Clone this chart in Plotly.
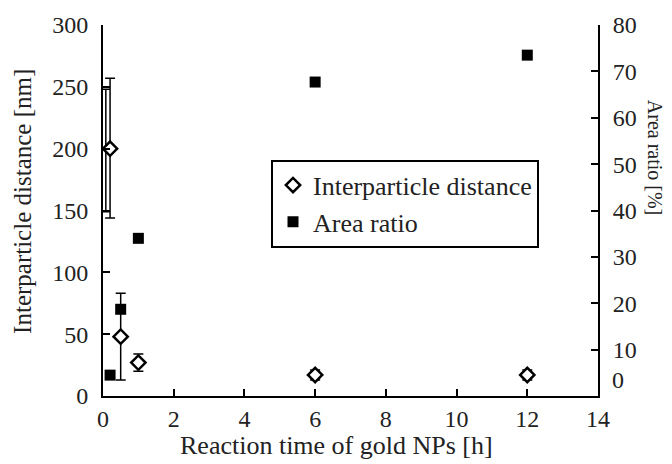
import plotly.graph_objects as go

# Data
time_h = [0.2, 0.5, 1, 6, 12]
distance_nm = [200, 48, 27, 17, 17]
distance_err_plus = [57, 35, 7, 4, 4]
distance_err_minus = [56, 35, 7, 4, 4]
area_ratio_pct = [4.5, 18.7, 34.0, 67.7, 73.5]

# Extra (overlapping) error bar near the origin
extra_time = [0.08]
extra_distance = [198.5]
extra_err = [49.5]

x_ticks = [0, 2, 4, 6, 8, 10, 12, 14]
y_ticks = [0, 50, 100, 150, 200, 250, 300]
y2_ticks = [10, 20, 30, 40, 50, 60, 70, 80]

FONT = "Liberation Serif"
TXT = "#222"

fig = go.Figure()

fig.add_trace(go.Scatter(
    x=extra_time, y=extra_distance, mode="markers", showlegend=False,
    marker=dict(size=1, opacity=0),
    error_y=dict(type="data", array=extra_err, color="black", thickness=1.5, width=4),
    cliponaxis=False, hoverinfo="skip"))

fig.add_trace(go.Scatter(
    x=time_h, y=distance_nm, mode="markers", name="Interparticle distance",
    marker=dict(symbol="diamond", size=11, color="white",
                line=dict(color="black", width=2.5)),
    error_y=dict(type="data", symmetric=False, array=distance_err_plus,
                 arrayminus=distance_err_minus, color="black", thickness=1.5, width=5),
    cliponaxis=False))

fig.add_trace(go.Scatter(
    x=time_h, y=area_ratio_pct, mode="markers", name="Area ratio", yaxis="y2",
    marker=dict(symbol="square", size=11, color="black"),
    cliponaxis=False))

axis_common = dict(showline=True, linecolor="black", linewidth=2, ticks="inside",
                   ticklen=7, tickwidth=2, tickcolor="black", showgrid=False,
                   zeroline=False, tickfont=dict(family=FONT, size=24, color=TXT))

fig.update_layout(
    width=672, height=464, autosize=False,
    margin=dict(l=103, r=74, t=25, b=68),
    paper_bgcolor="white", plot_bgcolor="white",
    font=dict(family=FONT, color=TXT),
    xaxis=dict(range=[0, 14], tickvals=x_ticks, **axis_common),
    yaxis=dict(range=[0, 300], tickvals=y_ticks, ticklabelstandoff=8, **axis_common),
    yaxis2=dict(range=[0, 80], tickvals=y2_ticks, overlaying="y", side="right",
                ticklabelstandoff=8, **axis_common),
    legend=dict(x=(271 - 103) / 495, y=0.637, xanchor="left", yanchor="top",
                bordercolor="black", borderwidth=2, bgcolor="white",
                font=dict(family=FONT, size=26, color=TXT), tracegroupgap=0,
                itemwidth=30),
    showlegend=True,
)

fig.add_annotation(text="Interparticle distance [nm]", xref="paper", yref="paper",
                   x=(23 - 103) / 495, y=(395.7 - 202) / 370.2, textangle=-90,
                   showarrow=False, font=dict(family=FONT, size=25, color=TXT),
                   xanchor="center", yanchor="middle")
fig.add_annotation(text="Area ratio [%]", xref="paper", yref="paper",
                   x=(655 - 103) / 495, y=(395.7 - 158) / 370.2, textangle=90,
                   showarrow=False, font=dict(family=FONT, size=20, color=TXT),
                   xanchor="center", yanchor="middle")
fig.add_annotation(text="Reaction time of gold NPs [h]", xref="paper", yref="paper",
                   x=(336 - 103) / 495, y=-(445 - 395.7) / 370.2,
                   showarrow=False, font=dict(family=FONT, size=26, color=TXT),
                   xanchor="center", yanchor="middle")
fig.add_annotation(text="0", xref="paper", yref="paper",
                   x=(610 - 103) / 495, y=(395.7 - 380) / 370.2,
                   showarrow=False, font=dict(family=FONT, size=24, color=TXT),
                   xanchor="left", yanchor="middle")

fig.write_html("out.html")
